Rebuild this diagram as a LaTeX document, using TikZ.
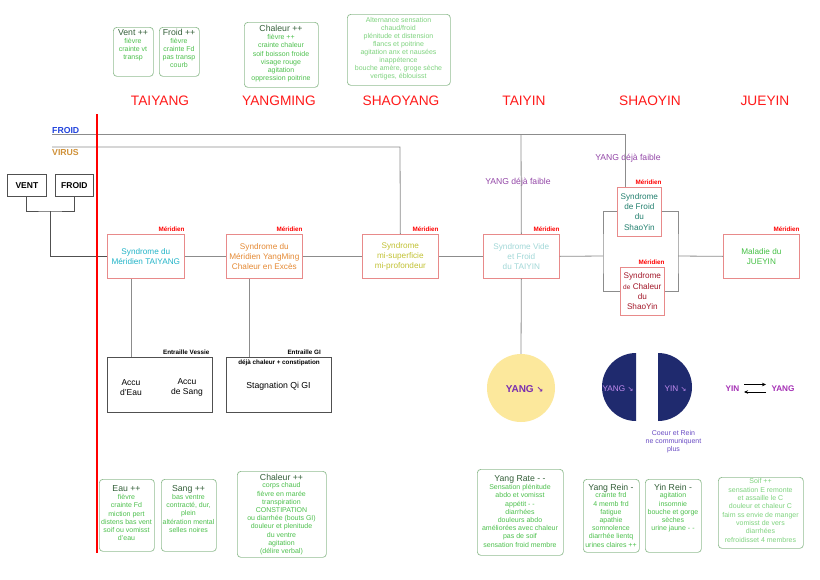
\documentclass[tikz,border=0pt]{standalone}
\usepackage{fontspec}
\setmainfont{Liberation Sans}
\newfontfamily\djv{DejaVu Sans}
\usetikzlibrary{arrows.meta,calc}
\definecolor{titlegreen}{HTML}{35603A}
\definecolor{bodygreen}{HTML}{4CC04C}
\definecolor{lightgreen}{HTML}{7ED37E}
\definecolor{symborder}{HTML}{92BE92}
\definecolor{synborder}{HTML}{E88A8A}
\definecolor{linegray}{HTML}{8C8C8C}
\definecolor{darkline}{HTML}{505050}
\definecolor{phasered}{HTML}{FF1A1A}
\definecolor{tycyan}{HTML}{22B4C8}
\definecolor{ymorange}{HTML}{E58A35}
\definecolor{msolive}{HTML}{C2C234}
\definecolor{tyinpale}{HTML}{A2D8D8}
\definecolor{frteal}{HTML}{23806F}
\definecolor{chred}{HTML}{A3182A}
\definecolor{juegreen}{HTML}{44C044}
\definecolor{froidblue}{HTML}{2244DD}
\definecolor{virusgold}{HTML}{D0923A}
\definecolor{faiblepurple}{HTML}{9448A8}
\definecolor{yangpurple}{HTML}{7A2EB0}
\definecolor{halfpurple}{HTML}{C48CF0}
\definecolor{coeurblue}{HTML}{6A4CC4}
\definecolor{yinyang}{HTML}{A530B5}
\definecolor{sunyellow}{HTML}{FCE89C}
\definecolor{navyhalf}{HTML}{1F2A6E}
\begin{document}
\begin{tikzpicture}[x=1pt,y=-1pt,
  synbox/.style={draw=synborder, line width=0.7pt, fill=white, anchor=north west,
    inner sep=0pt, align=center, font=\fontsize{8.2}{10.2}\selectfont},
  symbox/.style={draw=symborder, line width=0.7pt, rounded corners=3.5pt,
    anchor=north west, inner sep=0pt},
  symttl/.style={anchor=base, inner sep=0pt, text=titlegreen, font=\fontsize{8.7}{10}\selectfont},
  symbody/.style={anchor=north, inner sep=0pt, align=center, text=bodygreen,
    font=\fontsize{7}{8.2}\selectfont},
  merid/.style={anchor=south east, inner sep=0pt, text=red, font=\bfseries\fontsize{6.3}{7}\selectfont},
  phase/.style={anchor=base, inner sep=0pt, text=phasered, font=\fontsize{13.7}{15}\selectfont},
  gline/.style={draw=linegray, line width=0.8pt},
  dline/.style={draw=darkline, line width=1pt},
  smallbold/.style={inner sep=0pt, font=\bfseries\fontsize{6.3}{7}\selectfont},
  blackbox/.style={draw=darkline, line width=0.8pt, anchor=north west, inner sep=0pt},
  causebox/.style={draw=darkline, line width=0.8pt, anchor=north west, inner sep=0pt,
    font=\bfseries\fontsize{8.5}{10}\selectfont},
  faible/.style={inner sep=0pt, text=faiblepurple, font=\fontsize{8.6}{10}\selectfont},
]
\useasboundingbox[fill=white] (0,0) rectangle (820,579);

% ---------- phase headings ----------
\node[phase] (hTY) at (160,105) {TAIYANG};
\node[phase] (hYM) at (279,105) {YANGMING};
\node[phase] (hSY) at (401,105) {SHAOYANG};
\node[phase] (hTI) at (524,105) {TAIYIN};
\node[phase] (hSI) at (650,105) {SHAOYIN};
\node[phase] (hJY) at (765,105) {JUEYIN};

% ---------- top symptom boxes ----------
\node[symbox, minimum width=40, minimum height=49] (bVent) at (113,27) {};
\node[symttl] (tVent) at (133,35.5) {Vent ++};
\node[symbody] (dVent) at (133,38) {fièvre\\crainte vt\\transp};

\node[symbox, minimum width=40, minimum height=49] (bFroid) at (159,27) {};
\node[symttl] (tFroid) at (179,35.5) {Froid ++};
\node[symbody] (dFroid) at (179,38) {fièvre\\crainte Fd\\pas transp\\courb};

\node[symbox, minimum width=74, minimum height=65] (bChal) at (244,22) {};
\node[symttl] (tChal) at (281,31.5) {Chaleur ++};
\node[symbody] (dChal) at (281,34.3) {fièvre ++\\crainte chaleur\\soif boisson froide\\visage rouge\\agitation\\oppression poitrine};

\node[symbox, minimum width=103, minimum height=71] (bShy) at (347,14) {};
\node[symbody, text=lightgreen, font=\fontsize{7}{8}\selectfont] (dShy) at (398.5,17.7) {Alternance sensation\\chaud/froid\\plénitude et distension\\flancs et poitrine\\agitation anx et nausées\\inappétence\\bouche amère, groge sèche\\vertiges, éblouisst};

% ---------- FROID / VIRUS ----------
\node[anchor=base west, inner sep=0pt, text=froidblue, font=\bfseries\fontsize{8.7}{10}\selectfont] (lFroid) at (52,133) {FROID};
\node[anchor=base west, inner sep=0pt, text=virusgold, font=\bfseries\fontsize{8.7}{10}\selectfont] (lVirus) at (52,155.5) {VIRUS};

% ---------- causes ----------
\node[causebox, minimum width=39, minimum height=22] (vent) at (7,174) {VENT};
\node[causebox, minimum width=38, minimum height=22] (froid) at (55,174) {FROID};

% ---------- syndrome boxes ----------
\node[synbox, minimum width=77, minimum height=44, text=tycyan] (tysyn) at (107,234) {Syndrome du\\Méridien TAIYANG};
\node[synbox, minimum width=76, minimum height=44, text=ymorange] (ymsyn) at (226,234) {Syndrome du\\Méridien YangMing\\Chaleur en Excès};
\node[synbox, minimum width=76, minimum height=44, text=msolive] (mssyn) at (362,234) {Syndrome\\mi-superficie\\mi-profondeur};
\node[synbox, minimum width=76, minimum height=44, text=tyinpale] (tyin) at (483,234) {Syndrome Vide\\et Froid\\du TAIYIN};
\node[synbox, minimum width=44, minimum height=49, text=frteal] (frsy) at (617,187) {Syndrome\\de Froid\\du\\ShaoYin};
\node[synbox, minimum width=44, minimum height=48, text=chred] (chsy) at (620,267) {Syndrome\\{\fontsize{6.5}{8}\selectfont de} Chaleur\\du\\ShaoYin};
\node[synbox, minimum width=76, minimum height=44, text=juegreen] (jue) at (723,234) {Maladie du\\JUEYIN};

\foreach \b in {tysyn,ymsyn,mssyn,tyin,frsy,chsy,jue}
  \node[merid] (m\b) at ([yshift=2.5pt]\b.north east) {Méridien};

\node[faible] (f1) at (518,182) {YANG déjà faible};
\node[faible] (f2) at (628,158) {YANG déjà faible};

% ---------- entrailles ----------
\node[blackbox, minimum width=105, minimum height=55] (accu) at (107,357) {};
\node[align=center, inner sep=0pt, font=\fontsize{8.5}{10}\selectfont] (aEau) at (131,387.5) {Accu\\d'Eau};
\node[align=center, inner sep=0pt, font=\fontsize{8.5}{10}\selectfont] (aSang) at (187,387.5) {Accu\\de Sang};
\node[smallbold, anchor=south east] (eVes) at (209.5,354.5) {Entraille Vessie};

\node[blackbox, minimum width=105, minimum height=55] (stag) at (226,357) {};
\node[smallbold, anchor=south east] (eGI) at (321,354.5) {Entraille GI};
\node[smallbold] (dejaC) at (279,362.5) {déjà chaleur + constipation};
\node[inner sep=0pt, font=\fontsize{8.7}{10}\selectfont] (stagT) at (278.5,386) {Stagnation Qi GI};

% ---------- circles ----------
\node[circle, fill=sunyellow, minimum size=68, inner sep=0pt] (ycirc) at (521,388) {};
\node[inner sep=0pt, text=yangpurple, font=\bfseries\fontsize{10}{12}\selectfont] (yT) at (524.5,389) {YANG {\djv\fontsize{8}{10}\selectfont ↘}};

\begin{scope}
  \clip (598,350) rectangle (636,425);
  \fill[navyhalf] (636,387) circle (34);
\end{scope}
\begin{scope}
  \clip (658,350) rectangle (696,425);
  \fill[navyhalf] (658,387) circle (34);
\end{scope}
\node[inner sep=0pt, text=halfpurple, font=\fontsize{8.2}{10}\selectfont] (hY) at (618,389) {YANG {\djv\fontsize{7}{9}\selectfont ↘}};
\node[inner sep=0pt, text=halfpurple, font=\fontsize{8.2}{10}\selectfont] (hI) at (675.5,389) {YIN {\djv\fontsize{7}{9}\selectfont ↘}};
\node[align=center, inner sep=0pt, text=coeurblue, font=\fontsize{7}{8}\selectfont] (coeur) at (673.5,441.5) {Coeur et Rein\\ne communiquent\\plus};

\node[inner sep=0pt, text=yinyang, font=\bfseries\fontsize{8.2}{10}\selectfont] (yin) at (732.5,389) {YIN};
\node[inner sep=0pt, text=yinyang, font=\bfseries\fontsize{8.2}{10}\selectfont] (yang) at (783,389) {YANG};
\coordinate (a1s) at (744,384.5);
\coordinate (a1e) at (766,384.5);
\coordinate (a2s) at (766,392);
\coordinate (a2e) at (744,392);
\draw[line width=0.6pt, -{Stealth[length=4pt,width=3.5pt]}] (a1s) -- (a1e);
\draw[line width=0.6pt, -{Stealth[length=4pt,width=3.5pt]}] (a2s) -- (a2e);

% ---------- bottom symptom boxes ----------
\node[symbox, minimum width=55, minimum height=72] (bEau) at (99,479) {};
\node[symttl] (tEau) at (126.5,491.5) {Eau ++};
\node[symbody] (dEau) at (126.5,494.3) {fièvre\\crainte Fd\\miction pert\\distens bas vent\\soif ou vomisst\\d'eau};

\node[symbox, minimum width=55, minimum height=72] (bSang) at (161,479) {};
\node[symttl] (tSang) at (188.5,491.5) {Sang ++};
\node[symbody] (dSang) at (188.5,494.3) {bas ventre\\contracté, dur,\\plein\\altération mental\\selles noires};

\node[symbox, minimum width=89, minimum height=86] (bChal2) at (237,471) {};
\node[symttl] (tChal2) at (281.5,480.5) {Chaleur ++};
\node[symbody] (dChal2) at (281.5,482.7) {corps chaud\\fièvre en marée\\transpiration\\CONSTIPATION\\ou diarrhée (bouts GI)\\douleur et plenitude\\du ventre\\agitation\\(délire verbal)};

\node[symbox, minimum width=86, minimum height=86] (bRate) at (477,469) {};
\node[symttl] (tRate) at (520,481.5) {Yang Rate - -};
\node[symbody] (dRate) at (520,484.3) {Sensation plénitude\\abdo et vomisst\\appétit - -\\diarrhées\\douleurs abdo\\améliorées avec chaleur\\pas de soif\\sensation froid membre};

\node[symbox, minimum width=56, minimum height=73] (bYaR) at (583,479) {};
\node[symttl] (tYaR) at (611,490) {Yang Rein -};
\node[symbody] (dYaR) at (611,492.7) {crainte frd\\4 memb frd\\fatigue\\apathie\\somnolence\\diarrhée lientq\\urines claires ++};

\node[symbox, minimum width=56, minimum height=73] (bYiR) at (645,479) {};
\node[symttl] (tYiR) at (673,490) {Yin Rein -};
\node[symbody] (dYiR) at (673,492.7) {agitation\\insomnie\\bouche et gorge\\sèches\\urine jaune - -};

\node[symbox, minimum width=85, minimum height=71] (bSoif) at (718,477) {};
\node[symbody, text=lightgreen, font=\fontsize{7}{8.3}\selectfont] (dSoif) at (760.5,478.7) {Soif ++\\sensation E remonte\\et assaille le C\\douleur et chaleur C\\faim ss envie de manger\\vomisst de vers\\diarrhées\\refroidisset 4 membres};

% ---------- connectors ----------
\coordinate (jv) at (50,211);
\draw[dline] (vent.south) |- (jv) -| (froid.south);
\draw[dline] (jv) |- (tysyn.west);

\coordinate (fr0) at (52,134);
\coordinate (frT) at (521,134);
\coordinate (frS) at (625,134);
\draw[gline] (fr0) -- (frS) -- (frS |- frsy.north);
\draw[gline] (frT) -- (tyin.north);

\coordinate (vr0) at (52,147);
\coordinate (vrE) at (400,147);
\draw[gline] (vr0) -- (vrE) -- (mssyn.north);

\draw[gline] (tysyn.east) -- (ymsyn.west);
\draw[gline] (ymsyn.east) -- (mssyn.west);
\draw[gline] (mssyn.east) -- (tyin.west);
\coordinate (brL) at (603,256);
\coordinate (brR) at (678,256);
\draw[gline] (tyin.east) -- (brL);
\draw[gline] (frsy.west) -| (brL) |- (chsy.west);
\draw[gline] (frsy.east) -| (brR) |- (chsy.east);
\draw[gline] (brR) -- (jue.west);

\draw[gline] (tyin.south) -- (ycirc.north);
\coordinate (tyd) at ([xshift=24pt]tysyn.south west);
\draw[gline] (tyd) -- (tyd |- accu.north);
\coordinate (ymd) at ([xshift=23pt]ymsyn.south west);
\draw[gline] (ymd) -- (ymd |- stag.north);

% ---------- red divider ----------
\draw[red, line width=1.6pt] (97,114) -- (97,553);
\end{tikzpicture}
\end{document}
